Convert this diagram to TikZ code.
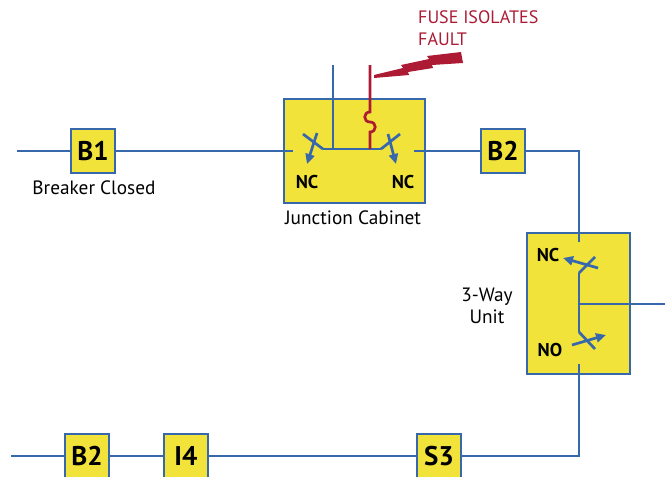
\documentclass[tikz,border=0pt]{standalone}
\usepackage{fontspec}
\setmainfont{PT Sans}
\usetikzlibrary{arrows.meta,positioning,calc}
\definecolor{lineblue}{RGB}{56,104,172}
\definecolor{boxyellow}{RGB}{242,227,58}
\definecolor{faultred}{RGB}{172,26,52}
\tikzset{
  >={Triangle[length=10pt,width=9pt]},
  bus/.style={draw=lineblue,line width=2.7pt},
  fuseline/.style={draw=faultred,line width=2.7pt},
  devbox/.style={draw=lineblue,line width=2.7pt,fill=boxyellow,minimum size=44pt,inner sep=0pt,
    font=\bfseries\fontsize{27}{27}\selectfont},
  cabinet/.style={draw=lineblue,line width=2.7pt,fill=boxyellow,inner sep=0pt},
  lbl/.style={font=\fontsize{19.3}{22}\selectfont,inner sep=0pt},
  swlbl/.style={font=\bfseries\fontsize{18.5}{18.5}\selectfont,inner sep=0pt},
  arrow/.style={->,bus},
}
\begin{document}
\begin{tikzpicture}[x=1pt,y=-1pt]
\useasboundingbox (0,0) rectangle (665,477);
\clip (0,0) rectangle (665,477);
% boxes
\node[cabinet,minimum width=141pt,minimum height=104pt] (jc) at (354.5,151) {};
\node[cabinet,minimum width=103pt,minimum height=141pt] (tw) at (578.5,303.5) {};
\node[devbox] (b1) at (93,151) {B1};
\node[devbox] (b2top) at (503,151) {B2};
\node[devbox] (b2bot) at (87,456) {B2};
\node[devbox] (i4) at (186,456) {I4};
\node[devbox] (s3) at (439,456) {S3};
% line ends
\coordinate (w1) at (17,151);
\coordinate (w2) at (11,456);
\coordinate (jcinL) at (293,151);
\coordinate (jcinR) at (414,151);
\coordinate (twin) at (579,242);
\coordinate (twout) at (579,364);
\coordinate (twtap) at (579,304);
\coordinate (e1) at (665,304);
% feeders
\draw[bus] (w1) -- (b1);
\draw[bus] (b1) -- (jcinL);
\draw[bus] (jcinR) -- (b2top);
\draw[bus] (b2top.east) -| (twin);
\draw[bus] (twout) |- (s3.east);
\draw[bus] (s3) -- (i4);
\draw[bus] (i4) -- (b2bot);
\draw[bus] (b2bot) -- (w2);
% junction cabinet
\coordinate (busL) at (323,149);
\coordinate (busR) at (381,149);
\coordinate (feed) at (333,149);
\coordinate (feedtop) at (333,65);
\coordinate (fuse) at (370,149);
\coordinate (fusetop) at (370,65);
\draw[bus] (busL) -- (busR);
\draw[bus] (feedtop) -- (feed);
\draw[fuseline] (fusetop) -- (370,112) .. controls (363,112) and (363,122) .. (370,122)
  .. controls (377,122) and (377,132) .. (370,132) -- (fuse);
\draw[bus] (busL) -- (303,134);
\draw[arrow] (317,133) -- (307,164);
\draw[bus] (busR) -- (400,134);
\draw[arrow] (388,134) -- (396,164);
% 3-way unit
\coordinate (twup) at (579,273);
\coordinate (twlo) at (579,332);
\draw[bus] (twup) -- (twlo);
\draw[bus] (twtap) -- (e1);
\draw[bus] (twup) -- (595,257);
\draw[arrow] (598,268) -- (563,258);
\draw[bus] (twlo) -- (595,349);
\draw[arrow] (572,345) -- (606,335);
% lightning
\fill[faultred] (374,75) -- (403,68) -- (401,65) -- (429,59) -- (427,56) -- (461,52)
  -- (463,63) -- (432,65) -- (433,68) -- (408,72) -- (409,75) -- (374,78) -- cycle;
% labels
\node[lbl] (bclbl) at (94,188) {Breaker Closed};
\node[lbl] (jclbl) at (353,218) {Junction Cabinet};
\node[swlbl] (nc1) at (307,182) {NC};
\node[swlbl] (nc2) at (403,182) {NC};
\node[swlbl] (nc3) at (548,255) {NC};
\node[swlbl] (no1) at (550,350) {NO};
\node[lbl,align=center] (twlbl) at (487,306) {3-Way\\Unit};
\node[lbl,text=faultred,align=left,anchor=north west,font=\fontsize{18}{22}\selectfont] (fault) at (418,10) {FUSE ISOLATES\\FAULT};
\end{tikzpicture}
\end{document}
